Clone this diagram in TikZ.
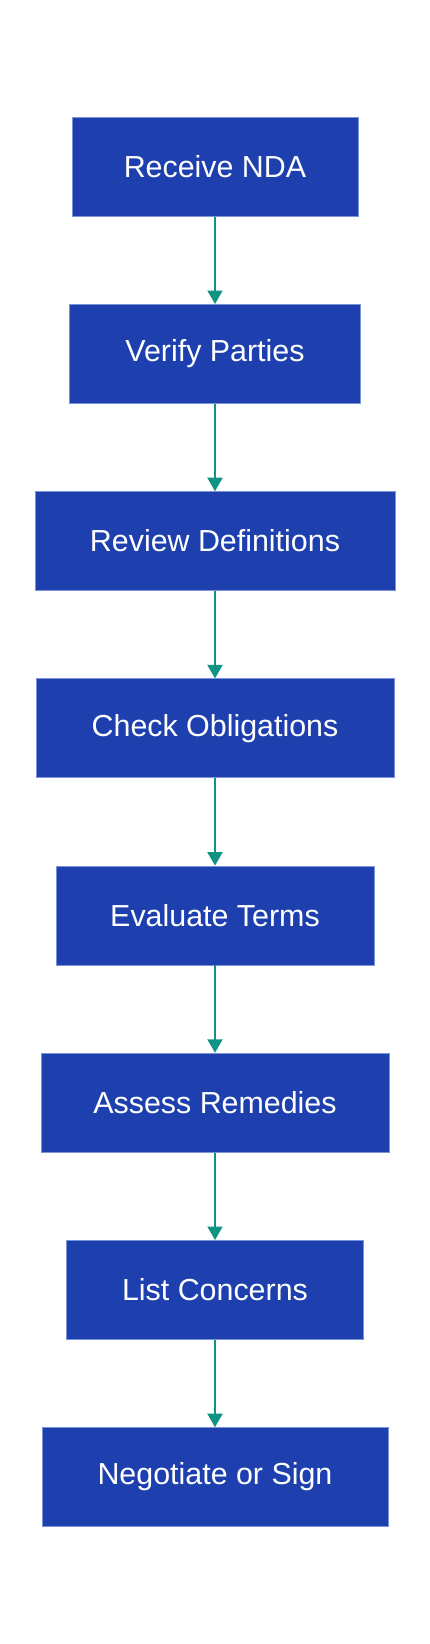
\documentclass[tikz,border=0pt]{standalone}
\usepackage{fontspec}
\setmainfont{Liberation Sans}
\usetikzlibrary{arrows.meta}
\definecolor{boxfill}{HTML}{1E40AF}
\definecolor{boxline}{HTML}{7A93DA}
\definecolor{arrowc}{HTML}{0F9484}
\begin{document}
\begin{tikzpicture}[x=1pt,y=-1pt,
  stepbox/.style={draw=boxline,line width=0.8pt,fill=boxfill,text=white,minimum height=99pt,inner sep=0pt,font=\fontsize{30.4}{35}\selectfont},
  flow/.style={draw=arrowc,line width=2pt,-{Triangle[length=13.5pt,width=15pt]}}]
\useasboundingbox (0,0) rectangle (430,1644);
\fill[white] (0,0) rectangle (430,1644);
\node[stepbox,minimum width=286pt] (n1) at (215,166.7) {Receive NDA};
\node[stepbox,minimum width=291pt] (n2) at (215,353.9) {Verify Parties};
\node[stepbox,minimum width=360pt] (n3) at (215,541.1) {Review Definitions};
\node[stepbox,minimum width=358pt] (n4) at (215,728.3) {Check Obligations};
\node[stepbox,minimum width=318pt] (n5) at (215,915.5) {Evaluate Terms};
\node[stepbox,minimum width=348pt] (n6) at (215,1102.7) {Assess Remedies};
\node[stepbox,minimum width=297pt] (n7) at (215,1289.9) {List Concerns};
\node[stepbox,minimum width=346pt] (n8) at (215,1477.1) {Negotiate or Sign};
\foreach \a/\b in {n1/n2,n2/n3,n3/n4,n4/n5,n5/n6,n6/n7,n7/n8}
  \draw[flow] (\a.south) -- (\b.north);
\end{tikzpicture}
\end{document}
